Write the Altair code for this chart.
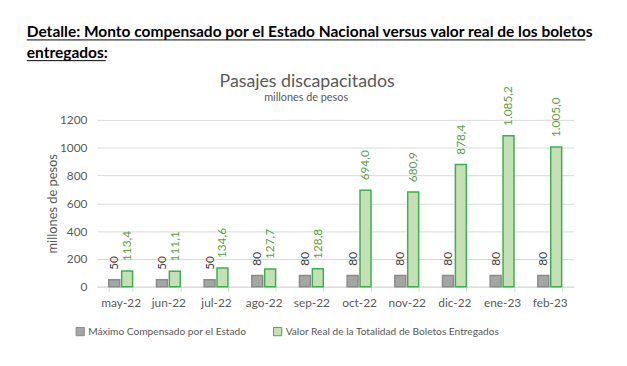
import altair as alt
import pandas as pd

months = ["may-22", "jun-22", "jul-22", "ago-22", "sep-22", "oct-22", "nov-22", "dic-22", "ene-23", "feb-23"]
maximo = [50, 50, 50, 80, 80, 80, 80, 80, 80, 80]
real = [113.4, 111.1, 134.6, 127.7, 128.8, 694.0, 680.9, 878.4, 1085.2, 1005.0]
series = ["Máximo Compensado por el Estado", "Valor Real de la Totalidad de Boletos Entregados"]
y_ticks = [0, 200, 400, 600, 800, 1000, 1200]

header1 = "Detalle: Monto compensado por el Estado Nacional versus valor real de los boletos"
header2 = "entregados:"
chart_title = "Pasajes discapacitados"
chart_subtitle = "millones de pesos"
y_title = "millones de pesos"

FONT = "Lato"


def fmt(v, dec):
    s = f"{v:,.{dec}f}"
    return s.replace(",", "X").replace(".", ",").replace("X", ".")


rows = []
for m, a, b in zip(months, maximo, real):
    rows.append({"mes": m, "serie": series[0], "valor": a, "label": fmt(a, 0)})
    rows.append({"mes": m, "serie": series[1], "valor": b, "label": fmt(b, 1)})
df = pd.DataFrame(rows)

x_enc = alt.X("mes:N", sort=months, title=None,
              scale=alt.Scale(paddingInner=0.5, paddingOuter=0.25),
              axis=alt.Axis(labelAngle=0, labelColor="#595959", labelFontSize=12,
                            domainColor="#d9d9d9", tickColor="#d9d9d9", tickBand="extent",
                            tickSize=5, labelPadding=6, grid=False))
y_enc = alt.Y("valor:Q", scale=alt.Scale(domain=[0, 1200], nice=False),
              axis=alt.Axis(values=y_ticks, format="d", title=y_title, grid=True, gridColor="#d9d9d9",
                            domain=False, ticks=False, labelColor="#595959", labelFontSize=12,
                            labelPadding=10, titleColor="#595959", titleFontSize=13,
                            titleFontWeight="normal", titlePadding=0))
xo_enc = alt.XOffset("serie:N", sort=series, scale=alt.Scale(paddingInner=0.15))

legend = alt.Legend(title=None, orient="none", legendX=-22, legendY=209,
                    direction="horizontal", symbolType="square", symbolSize=70,
                    labelFontSize=10.3, labelColor="#595959", columnPadding=24,
                    labelOffset=3, symbolStrokeWidth=1, labelLimit=400)

base = alt.Chart(df)

bars = base.mark_bar(strokeWidth=1.5).encode(
    x=x_enc, y=y_enc, xOffset=xo_enc,
    fill=alt.Fill("serie:N", sort=series,
                  scale=alt.Scale(domain=series, range=["#a5a5a5", "#c5e0b4"]),
                  legend=legend),
    stroke=alt.Stroke("serie:N", sort=series,
                      scale=alt.Scale(domain=series, range=["#8c8c8c", "#3cb050"]),
                      legend=legend),
)

lbl_gray = base.transform_filter(alt.datum.serie == series[0]).mark_text(
    angle=270, align="left", baseline="middle", dx=10, fontSize=12, color="#404040"
).encode(x=x_enc, y=y_enc, xOffset=xo_enc, text="label:N")

lbl_green = base.transform_filter(alt.datum.serie == series[1]).mark_text(
    angle=270, align="left", baseline="middle", dx=10, fontSize=12, color="#5e9e43"
).encode(x=x_enc, y=y_enc, xOffset=xo_enc, text="label:N")


def annot(text, x, y, size, color, weight="normal", align="left"):
    return alt.Chart(pd.DataFrame({"t": [text]})).mark_text(
        align=align, baseline="alphabetic", fontSize=size, color=color, fontWeight=weight
    ).encode(text="t:N", x=alt.value(x), y=alt.value(y))


h1 = annot(header1, -71, -84, 15.7, "#000000", "bold")
h2 = annot(header2, -71, -63, 15.7, "#000000", "bold")
t1 = annot(chart_title, 213, -33, 18, "#595959", align="center")
t2 = annot(chart_subtitle, 212, -19, 11, "#595959", align="center")

ul1 = alt.Chart(pd.DataFrame({"a": [0]})).mark_rule(color="#000000", strokeWidth=1).encode(
    x=alt.value(-71), x2=alt.value(495), y=alt.value(-81))
ul2 = alt.Chart(pd.DataFrame({"a": [0]})).mark_rule(color="#000000", strokeWidth=1).encode(
    x=alt.value(-71), x2=alt.value(9), y=alt.value(-60))

chart = alt.layer(bars, lbl_gray, lbl_green, h1, h2, ul1, ul2, t1, t2).properties(
    width=483, height=169,
    autosize=alt.AutoSizeParams(type="none"),
    padding={"left": 90, "top": 111, "right": 46, "bottom": 78},
).configure(font=FONT).configure_view(stroke=None)

chart.save("out.html", embed_options={"renderer": "svg", "actions": False})
